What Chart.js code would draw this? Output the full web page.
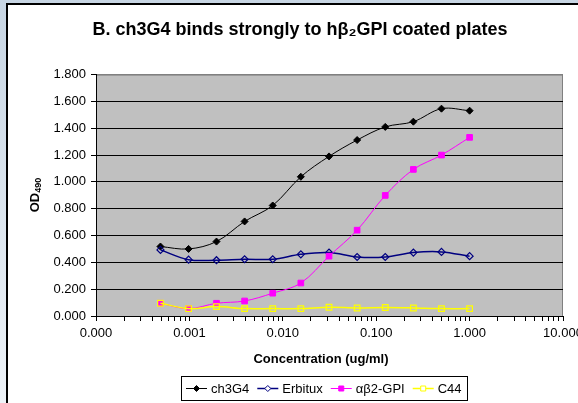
<!DOCTYPE html>
<html>
<head>
<meta charset="utf-8">
<script src="https://cdn.jsdelivr.net/npm/chart.js@4.4.0/dist/chart.umd.min.js"></script>
<style>
    body {
        margin: 0;
        width: 578px;
        height: 403px;
        overflow: hidden;
        background: linear-gradient(#c7d5e3, #eef3f8);
    }
    #moldura {
        position: absolute;
        left: 6px;
        top: 3px;
        width: 600px;
        height: 420px;
        background: #fff;
        border-left: 2px solid #000;
        border-top: 2px solid #000;
        overflow: hidden;
    }
    canvas { display: block; }
</style>
</head>
<body>
<div id="moldura"><canvas id="grafico" width="584" height="398"></canvas></div>
<script>
// concentration series (ug/ml)
const concentracoes = [0.00049, 0.00098, 0.00195, 0.0039, 0.0078, 0.0156, 0.03125, 0.0625, 0.125, 0.25, 0.5, 1];

const ch3G4   = [0.518, 0.500, 0.555, 0.705, 0.824, 1.038, 1.190, 1.312, 1.410, 1.449, 1.546, 1.531];
const erbitux = [0.493, 0.420, 0.416, 0.423, 0.423, 0.460, 0.473, 0.440, 0.440, 0.473, 0.478, 0.446];
const ab2GPI  = [0.095, 0.055, 0.095, 0.112, 0.170, 0.246, 0.446, 0.640, 0.899, 1.093, 1.200, 1.332];
const c44     = [0.095, 0.055, 0.070, 0.055, 0.055, 0.055, 0.065, 0.060, 0.063, 0.060, 0.055, 0.055];

// axis labels
const decadasX = [0.0001, 0.001, 0.01, 0.1, 1, 10];
const rotulosX = ['0.000', '0.001', '0.010', '0.100', '1.000', '10.000'];
const rotulosY = ['0.000', '0.200', '0.400', '0.600', '0.800', '1.000', '1.200', '1.400', '1.600', '1.800'];

// minor ticks like excel (1..9 per decade)
var marcasX = [];
for (let i = 0; i < decadasX.length - 1; i++) {
    for (let m = 1; m <= 9; m++) marcasX.push(m * decadasX[i]);
}
marcasX.push(decadasX[decadasX.length - 1]);

function pontos(valores) {
    return concentracoes.map((c, i) => ({ x: c, y: valores[i] }));
}

const fonte = 'Arial, "Liberation Sans", sans-serif';
Chart.defaults.font.family = fonte;
Chart.defaults.color = '#000';

// gray plot background
const fundoPlot = {
    id: 'fundoPlot',
    beforeDraw(chart) {
        const { ctx, chartArea: a } = chart;
        ctx.save();
        ctx.fillStyle = '#c0c0c0';
        ctx.fillRect(a.left, a.top, a.right - a.left, a.bottom - a.top);
        ctx.strokeStyle = '#808080';
        ctx.lineWidth = 1;
        ctx.strokeRect(a.left + 0.5, a.top + 0.5, a.right - a.left - 1, a.bottom - a.top);
        ctx.restore();
    }
};

// axis titles (OD with real subscript)
const titulosEixos = {
    id: 'titulosEixos',
    afterDraw(chart) {
        const ctx = chart.ctx;
        ctx.save();
        ctx.fillStyle = '#000';
        ctx.textBaseline = 'alphabetic';
        ctx.textAlign = 'center';
        ctx.font = 'bold 13px ' + fonte;
        ctx.fillText('Concentration (ug/ml)', 313, 358);

        ctx.translate(31, 190);
        ctx.rotate(-Math.PI / 2);
        ctx.textAlign = 'left';
        ctx.font = 'bold 13px ' + fonte;
        const wOD = ctx.measureText('OD').width;
        ctx.font = 'bold 9px ' + fonte;
        const wSub = ctx.measureText('490').width;
        let x = -(wOD + wSub) / 2;
        ctx.font = 'bold 13px ' + fonte;
        ctx.fillText('OD', x, 0);
        ctx.font = 'bold 9px ' + fonte;
        ctx.fillText('490', x + wOD, 2);
        ctx.restore();
    }
};

function marcador(ctx, estilo, x, y, r) {
    ctx.beginPath();
    if (estilo === 'rectRot') {
        ctx.moveTo(x, y - r);
        ctx.lineTo(x + r, y);
        ctx.lineTo(x, y + r);
        ctx.lineTo(x - r, y);
        ctx.closePath();
    } else {
        ctx.rect(x - r, y - r, 2 * r, 2 * r);
    }
    ctx.fill();
    ctx.stroke();
}

// legend box at the bottom, line + marker like excel
const legendaExcel = {
    id: 'legendaExcel',
    afterDraw(chart) {
        const ctx = chart.ctx;
        const itens = chart.data.datasets;
        ctx.save();
        ctx.font = '13px ' + fonte;
        const linha = 21, folga = 4, entre = 8, margem = 5;
        let total = margem * 2;
        itens.forEach((d, i) => {
            total += linha + folga + ctx.measureText(d.label).width + (i ? entre : 0);
        });
        const cx = 316, cy = 383, h = 24;
        let x = Math.round(cx - total / 2);
        ctx.fillStyle = '#fff';
        ctx.fillRect(x, cy - h / 2, total, h);
        ctx.strokeStyle = '#000';
        ctx.lineWidth = 1;
        ctx.strokeRect(x + 0.5, cy - h / 2 + 0.5, Math.round(total), h);
        x += margem;
        itens.forEach(d => {
            ctx.strokeStyle = d.borderColor;
            ctx.lineWidth = d.borderWidth;
            ctx.beginPath();
            ctx.moveTo(x, cy + 0.5);
            ctx.lineTo(x + linha, cy + 0.5);
            ctx.stroke();
            ctx.fillStyle = d.pointBackgroundColor === 'transparent' ? '#fff' : d.pointBackgroundColor;
            ctx.strokeStyle = d.pointBorderColor;
            ctx.lineWidth = 1;
            marcador(ctx, d.pointStyle, x + linha / 2, cy + 0.5, d.pointStyle === 'rectRot' ? 3 : 2.5);
            ctx.fillStyle = '#000';
            ctx.textBaseline = 'middle';
            ctx.textAlign = 'left';
            ctx.fillText(d.label, x + linha + folga, cy + 1);
            x += linha + folga + ctx.measureText(d.label).width + entre;
        });
        ctx.restore();
    }
};

const grafico = new Chart(document.getElementById('grafico'), {
    type: 'line',
    data: {
        datasets: [
            {
                label: 'ch3G4',
                data: pontos(ch3G4),
                borderColor: '#000000',
                borderWidth: 1,
                pointStyle: 'rectRot',
                pointRadius: 3.5,
                pointBackgroundColor: '#000000',
                pointBorderColor: '#000000',
                order: 3
            },
            {
                label: 'Erbitux',
                data: pontos(erbitux),
                borderColor: '#000080',
                borderWidth: 1.5,
                pointStyle: 'rectRot',
                pointRadius: 3.5,
                pointBackgroundColor: 'transparent',
                pointBorderColor: '#000080',
                pointBorderWidth: 1.2,
                order: 2
            },
            {
                label: 'αβ2-GPI',
                data: pontos(ab2GPI),
                borderColor: '#ff00ff',
                borderWidth: 1,
                pointStyle: 'rect',
                pointRadius: 4,
                pointBackgroundColor: '#ff00ff',
                pointBorderColor: '#ff00ff',
                order: 1
            },
            {
                label: 'C44',
                data: pontos(c44),
                borderColor: '#ffff00',
                borderWidth: 1.5,
                pointStyle: 'rect',
                pointRadius: 4,
                pointBackgroundColor: 'transparent',
                pointBorderColor: '#ffff00',
                pointBorderWidth: 1.2,
                order: 0
            }
        ]
    },
    options: {
        responsive: false,
        animation: false,
        tension: 0.35,
        layout: { padding: { left: 29, right: 29, top: 0, bottom: 27 } },
        plugins: {
            legend: { display: false },
            tooltip: { enabled: false },
            title: {
                display: true,
                text: 'B. ch3G4 binds strongly to hβ₂GPI coated plates',
                color: '#000',
                font: { size: 18, weight: 'bold' },
                padding: { top: 14, bottom: 34 }
            }
        },
        scales: {
            x: {
                type: 'logarithmic',
                min: 0.0001,
                max: 10,
                afterBuildTicks: s => { s.ticks = marcasX.map(v => ({ value: v })); },
                afterFit: s => { s.height = 60; },
                grid: { drawOnChartArea: false, color: '#000', tickLength: 5 },
                border: { color: '#000', width: 1 },
                ticks: {
                    autoSkip: false,
                    maxRotation: 0,
                    padding: 5,
                    font: { size: 13 },
                    callback: v => {
                        const k = decadasX.findIndex(d => Math.abs(d - v) / d < 1e-6);
                        return k >= 0 ? rotulosX[k] : '';
                    }
                }
            },
            y: {
                min: 0,
                max: 1.8,
                afterFit: s => { s.width = 59; },
                grid: {
                    color: c => (c.tick && c.tick.value > 1.79 ? '#808080' : '#000'),
                    tickColor: '#000',
                    tickLength: 5
                },
                border: { color: '#000', width: 1 },
                ticks: {
                    stepSize: 0.2,
                    padding: 5,
                    font: { size: 13 },
                    callback: (v, i) => rotulosY[i]
                }
            }
        }
    },
    plugins: [fundoPlot, titulosEixos, legendaExcel]
});
</script>
</body>
</html>
